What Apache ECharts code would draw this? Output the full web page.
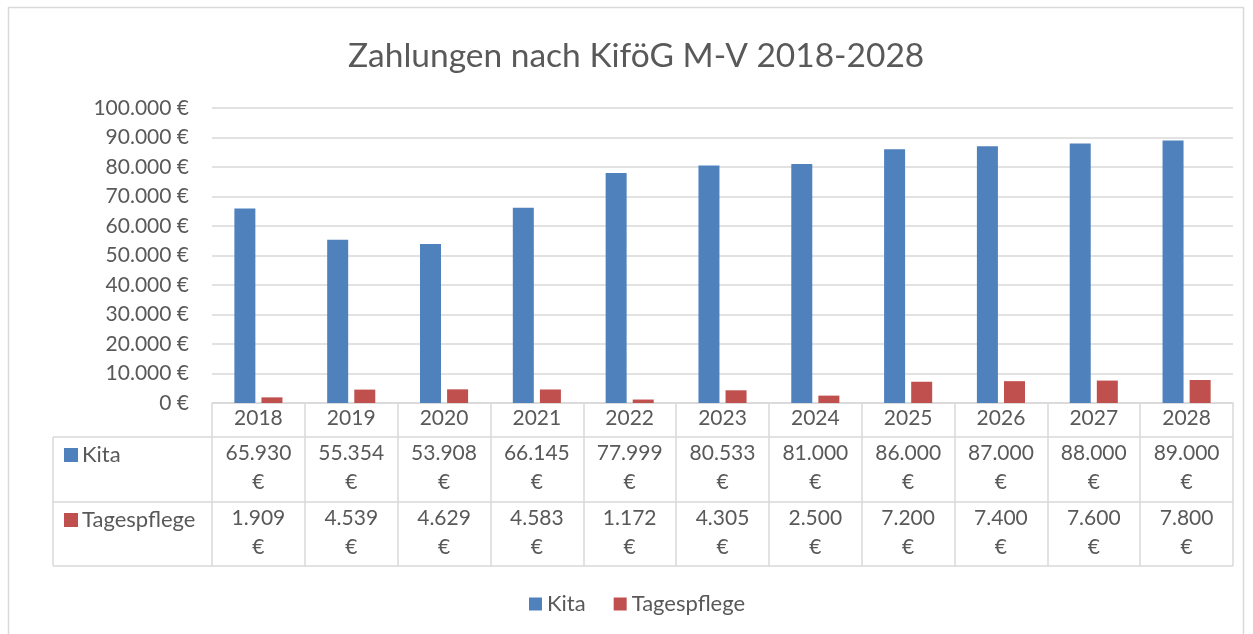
<!DOCTYPE html>
<html>
<head>
<meta charset="utf-8"/>
<title>Zahlungen nach KiföG M-V 2018-2028</title>
<script src="https://cdn.jsdelivr.net/npm/echarts@6/dist/echarts.min.js"></script>
<style>
html, body { margin: 0; padding: 0; background: #fff; }
#main { width: 1253px; height: 634px; }
</style>
</head>
<body>
<div id="main"></div>
<script>
// data
const years = ['2018', '2019', '2020', '2021', '2022', '2023', '2024', '2025', '2026', '2027', '2028']
const kita = [65930, 55354, 53908, 66145, 77999, 80533, 81000, 86000, 87000, 88000, 89000]
const tagespflege = [1909, 4539, 4629, 4583, 1172, 4305, 2500, 7200, 7400, 7600, 7800]
const seriesNames = ['Kita', 'Tagespflege']
const yMin = 0
const yMax = 100000
const yStep = 10000

const FONT = 'Lato'
const TXT = '#595959'
const LINE = '#d9d9d9'
const COLORS = ['#4f81bd', '#c0504d']
const NUM_SIZE = 21
const NAME_SIZE = 22

function euro(v) {
    return String(v).replace(/\B(?=(\d{3})+(?!\d))/g, '.') + ' €'
}

const chart = echarts.init(document.getElementById('main'), null, { renderer: 'canvas' })

chart.setOption({
    animation: false,
    textStyle: { fontFamily: FONT },
    title: {
        text: 'Zahlungen nach KiföG M-V 2018-2028',
        left: 348,
        top: 39,
        padding: 0,
        textStyle: { fontFamily: FONT, fontSize: 33.5, fontWeight: 'normal', color: TXT }
    },
    legend: {
        data: seriesNames,
        left: 529,
        top: 593,
        padding: 0,
        icon: 'rect',
        itemWidth: 13,
        itemHeight: 13,
        itemGap: 28,
        textStyle: { fontFamily: FONT, fontSize: NAME_SIZE, color: TXT }
    },
    grid: { left: 212, right: 20, top: 108, bottom: 231, containLabel: false },
    xAxis: {
        type: 'category',
        data: years,
        axisLine: { lineStyle: { color: LINE, width: 1.5 } },
        axisTick: { show: true, interval: 0, length: 163, lineStyle: { color: LINE, width: 1.5 } },
        axisLabel: { color: TXT, fontSize: NUM_SIZE, fontFamily: FONT, margin: 5, interval: 0 }
    },
    yAxis: {
        type: 'value',
        min: yMin,
        max: yMax,
        interval: yStep,
        axisLine: { show: false },
        axisTick: { show: false },
        splitLine: { lineStyle: { color: LINE, width: 1.5 } },
        axisLabel: { color: TXT, fontSize: NUM_SIZE, fontFamily: FONT, margin: 23, formatter: euro }
    },
    series: [
        { name: seriesNames[0], type: 'bar', data: kita, barWidth: 21, barGap: '29%', itemStyle: { color: COLORS[0] } },
        { name: seriesNames[1], type: 'bar', data: tagespflege, barWidth: 21, itemStyle: { color: COLORS[1] } }
    ]
})

// data table under the axis, placed with the chart's own scales
const baseY = chart.convertToPixel({ yAxisIndex: 0 }, 0)
const step = chart.convertToPixel({ xAxisIndex: 0 }, 1) - chart.convertToPixel({ xAxisIndex: 0 }, 0)
const rightX = chart.convertToPixel({ xAxisIndex: 0 }, years.length - 1) + step / 2
const tableLeft = 53
const rowTops = [baseY + 34, baseY + 99, baseY + 163]
const rowData = [kita, tagespflege]

const graphic = []
graphic.push({
    type: 'rect',
    shape: { x: 8.5, y: 7.5, width: 1235, height: 660 },
    style: { fill: 'none', stroke: LINE, lineWidth: 1.5 },
    silent: true
})
rowTops.forEach(y => {
    graphic.push({
        type: 'line',
        shape: { x1: tableLeft, y1: y, x2: rightX, y2: y },
        style: { stroke: LINE, lineWidth: 1.5 }
    })
})
graphic.push({
    type: 'line',
    shape: { x1: tableLeft, y1: rowTops[0], x2: tableLeft, y2: rowTops[2] },
    style: { stroke: LINE, lineWidth: 1.5 }
})
rowData.forEach((arr, r) => {
    const top = rowTops[r]
    graphic.push({
        type: 'rect',
        shape: { x: 64, y: top + 11, width: 14, height: 14 },
        style: { fill: COLORS[r] }
    })
    graphic.push({
        type: 'text',
        x: 82, y: top + 18,
        style: { text: seriesNames[r], fill: TXT, fontSize: NAME_SIZE, fontFamily: FONT, align: 'left', verticalAlign: 'middle' }
    })
    arr.forEach((v, i) => {
        graphic.push({
            type: 'text',
            x: chart.convertToPixel({ xAxisIndex: 0 }, i),
            y: top + 31,
            style: {
                text: euro(v).replace(' ', '\n'),
                fill: TXT, fontSize: NUM_SIZE, fontFamily: FONT,
                align: 'center', verticalAlign: 'middle', lineHeight: 29
            }
        })
    })
})
chart.setOption({ graphic: graphic })
</script>
</body>
</html>
